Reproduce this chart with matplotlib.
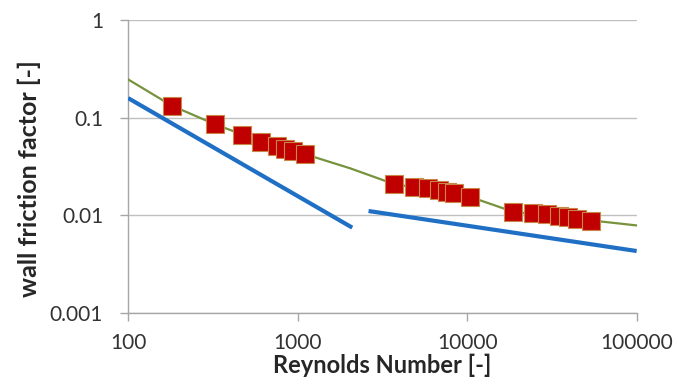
import matplotlib
matplotlib.use("Agg")
import matplotlib.pyplot as plt
from matplotlib.ticker import FixedLocator, FixedFormatter, NullLocator

# Measured wall friction factors
re_meas = [181, 324, 467, 611, 756, 846, 944, 1099,
           3690, 4845, 5860, 6810, 7630, 8340, 10330,
           18700, 24400, 29700, 34800, 39600, 44700, 53600]
f_meas = [0.1318, 0.0862, 0.0665, 0.0568, 0.0517, 0.0478, 0.0460, 0.0425,
          0.0208, 0.0197, 0.0189, 0.0182, 0.0175, 0.0168, 0.0155,
          0.0108, 0.0107, 0.0103, 0.00993, 0.00963, 0.00925, 0.00883]

# Correlation curve through the measurements
re_fit = [100, 181, 324, 611, 1100, 2050, 3690, 10300, 18700, 53600, 100000]
f_fit = [0.247, 0.133, 0.086, 0.057, 0.0425, 0.0303, 0.0210, 0.0156, 0.0109, 0.0089, 0.0079]

# Laminar and turbulent smooth-pipe lines
re_lam = [100, 2100]
f_lam = [0.159, 0.0075]
re_turb = [2620, 100000]
f_turb = [0.0111, 0.00432]

x_ticks = [100, 1000, 10000, 100000]
x_labels = ["100", "1000", "10000", "100000"]
y_ticks = [0.001, 0.01, 0.1, 1]
y_labels = ["0.001", "0.01", "0.1", "1"]

plt.rcParams['font.family'] = ['Lato', 'DejaVu Sans']

fig = plt.figure(figsize=(6.78, 3.87), dpi=100)
ax = fig.add_axes([0.189, 0.191, 0.750, 0.757])

ax.set_xscale("log")
ax.set_yscale("log")
ax.set_xlim(100, 100000)
ax.set_ylim(0.001, 1)

ax.plot(re_lam, f_lam, color="#1F6FC4", lw=3.0, solid_capstyle="butt", zorder=3)
ax.plot(re_turb, f_turb, color="#1F6FC4", lw=3.0, solid_capstyle="butt", zorder=3)
ax.plot(re_fit, f_fit, color="#77933C", lw=1.6, zorder=4)
ax.plot(re_meas, f_meas, linestyle="none", marker="s", markersize=12.5,
        markerfacecolor="#C00000", markeredgecolor="#C8884A", markeredgewidth=0.8,
        zorder=5)

for yv in y_ticks:
    ax.axhline(yv, color="#C0C0C0", lw=1.0, zorder=1)

ax.xaxis.set_major_locator(FixedLocator(x_ticks))
ax.xaxis.set_major_formatter(FixedFormatter(x_labels))
ax.xaxis.set_minor_locator(NullLocator())
ax.yaxis.set_major_locator(FixedLocator(y_ticks))
ax.yaxis.set_major_formatter(FixedFormatter(y_labels))
ax.yaxis.set_minor_locator(NullLocator())

for s in ["top", "right"]:
    ax.spines[s].set_visible(False)
for s in ["left", "bottom"]:
    ax.spines[s].set_color("#A6A6A6")
    ax.spines[s].set_linewidth(1.0)

ax.tick_params(axis="both", colors="#A6A6A6", labelcolor="#333333",
               length=6, width=1.0, labelsize=15)
ax.tick_params(axis="y", pad=12)
ax.tick_params(axis="x", pad=8)

ax.set_xlabel("Reynolds Number [-]", fontsize=17, fontweight="bold",
              color="#262626", labelpad=1)
ax.set_ylabel("wall friction factor [-]", fontsize=18, fontweight="bold",
              color="#262626")
ax.yaxis.set_label_coords(-0.171, 0.46)

fig.savefig("out.png", dpi=100)
